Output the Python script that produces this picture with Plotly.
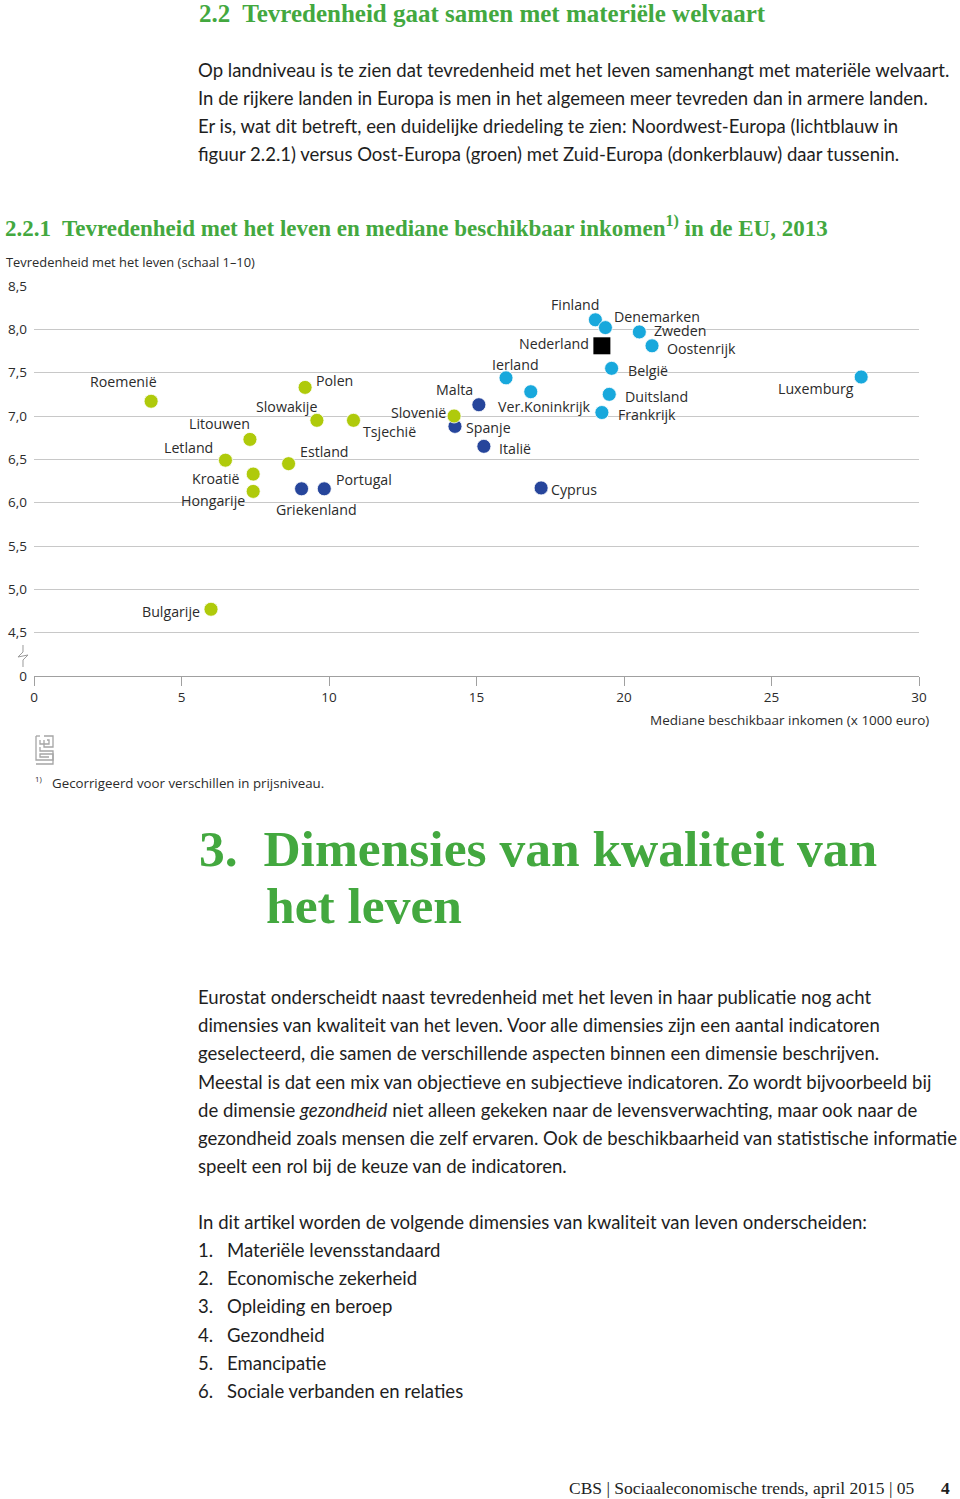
import plotly.graph_objects as go

# ---------------- data ----------------
countries = ["Roemenië", "Polen", "Slowakije", "Tsjechië", "Litouwen", "Letland", "Estland",
             "Kroatië", "Hongarije", "Bulgarije", "Slovenië",
             "Griekenland", "Portugal", "Spanje", "Malta", "Italië", "Cyprus",
             "Ierland", "Ver.Koninkrijk", "Finland", "Denemarken", "Zweden", "Oostenrijk",
             "België", "Duitsland", "Frankrijk", "Luxemburg", "Nederland"]
income = [3.97, 9.19, 9.59, 10.83, 7.32, 6.49, 8.63,
          7.43, 7.43, 6.00, 14.24,
          9.07, 9.84, 14.27, 15.08, 15.25, 17.19,
          16.00, 16.84, 19.03, 19.37, 20.52, 20.95,
          19.58, 19.50, 19.25, 28.04, 19.25]
satisfaction = [7.17, 7.33, 6.95, 6.95, 6.73, 6.49, 6.45,
                6.33, 6.13, 4.77, 7.00,
                6.16, 6.16, 6.88, 7.13, 6.65, 6.17,
                7.44, 7.28, 8.11, 8.02, 7.97, 7.81,
                7.55, 7.25, 7.04, 7.45, 7.81]
region = ["oost"] * 11 + ["zuid"] * 6 + ["noordwest"] * 10 + ["nederland"]

x_ticks = [0, 5, 10, 15, 20, 25, 30]
y_tickvals = [4.0, 4.5, 5.0, 5.5, 6.0, 6.5, 7.0, 7.5, 8.0, 8.5]
y_ticktext = ["0", "4,5", "5,0", "5,5", "6,0", "6,5", "7,0", "7,5", "8,0", "8,5"]

# label placement (xanchor, xshift px, yshift px) per country - style only
label_pos = {
    "Roemenië": ("right", 8, 20), "Polen": ("left", 9, 7), "Slowakije": ("right", 2, 14),
    "Tsjechië": ("left", 8, -11), "Litouwen": ("right", 2, 16), "Letland": ("right", -10, 13),
    "Estland": ("left", 9, 12), "Kroatië": ("right", -11, -4), "Hongarije": ("right", -6, -9),
    "Bulgarije": ("right", -9, -2), "Slovenië": ("right", -6, 4),
    "Griekenland": ("center", 15, -21), "Portugal": ("left", 10, 9), "Spanje": ("left", 9, -1),
    "Malta": ("right", -4, 15), "Italië": ("left", 13, -2), "Cyprus": ("left", 8, -2),
    "Ierland": ("center", 9, 13), "Ver.Koninkrijk": ("center", 14, -15),
    "Finland": ("right", 6, 15), "Denemarken": ("left", 7, 11), "Zweden": ("left", 13, 1),
    "Oostenrijk": ("left", 13, -3), "België": ("left", 14, -2), "Duitsland": ("left", 14, -2),
    "Frankrijk": ("left", 14, -2), "Luxemburg": ("right", -5, -11), "Nederland": ("right", -11, 2),
}

colors = {"oost": "#afca0b", "zuid": "#26459b", "noordwest": "#18a8dc", "nederland": "#000000"}

# ---------------- layout geometry (page pixel coordinates) ----------------
W, H = 960, 1499
L, R, T, B = 34, 919, 286, 676


def px(x):
    return (x - L) / (R - L)


def py(y):
    return (B - y) / (B - T)


fig = go.Figure()

for reg in ["zuid", "oost", "noordwest", "nederland"]:
    idx = [i for i, r in enumerate(region) if r == reg]
    fig.add_trace(go.Scatter(
        x=[income[i] for i in idx], y=[satisfaction[i] for i in idx],
        mode="markers", hoverinfo="text", text=[countries[i] for i in idx],
        marker=dict(color=colors[reg],
                    size=17 if reg == "nederland" else 14,
                    symbol="square" if reg == "nederland" else "circle",
                    line=dict(color="white", width=0.8 if reg != "nederland" else 0)),
        showlegend=False))

annotations = []
for c, xv, yv in zip(countries, income, satisfaction):
    xa, xs, ys = label_pos[c]
    annotations.append(dict(text=c, x=xv, y=yv, xref="x", yref="y", showarrow=False,
                            xanchor=xa, yanchor="middle", xshift=xs, yshift=ys,
                            font=dict(family="Open Sans", size=14.2, color="#2b2b2b")))

GREEN = "#43a83f"
BODY = "Lato"
SERIF = "Liberation Serif"
BS = 18.55


def txt(s, x, y, size, family=BODY, color="#1e1e1e", xanchor="left"):
    annotations.append(dict(text=s, x=px(x), y=py(y), xref="paper", yref="paper",
                            showarrow=False, xanchor=xanchor, yanchor="middle",
                            font=dict(family=family, size=size, color=color)))


# headings and text
txt("<b>2.2  Tevredenheid gaat samen met materiële welvaart</b>", 197, 13, 25, SERIF, GREEN)
para1 = ["Op landniveau is te zien dat tevredenheid met het leven samenhangt met materiële welvaart.",
         "In de rijkere landen in Europa is men in het algemeen meer tevreden dan in armere landen.",
         "Er is, wat dit betreft, een duidelijke driedeling te zien: Noordwest-Europa (lichtblauw in",
         "figuur 2.2.1) versus Oost-Europa (groen) met Zuid-Europa (donkerblauw) daar tussenin."]
for i, line in enumerate(para1):
    txt(line, 196, 70 + 28 * i, BS)

txt("<b>2.2.1  Tevredenheid met het leven en mediane beschikbaar inkomen<sup>1)</sup> in de EU, 2013</b>",
    3, 226, 23, SERIF, GREEN)
txt("Tevredenheid met het leven (schaal 1–10)", 4, 262, 12.9, "Open Sans", "#2b2b2b")
txt("Mediane beschikbaar inkomen (x 1000 euro)", 931, 720, 13.5, "Open Sans", "#2b2b2b", "right")
txt("<sup>1)</sup>", 33, 779, 11, "Open Sans", "#2b2b2b")
txt("Gecorrigeerd voor verschillen in prijsniveau.", 50, 783, 13.3, "Open Sans", "#2b2b2b")

txt("<b>3.  Dimensies van kwaliteit van</b>", 197, 848, 51.5, SERIF, GREEN)
txt("<b>het leven</b>", 264, 905, 51.5, SERIF, GREEN)

para2 = ["Eurostat onderscheidt naast tevredenheid met het leven in haar publicatie nog acht",
         "dimensies van kwaliteit van het leven. Voor alle dimensies zijn een aantal indicatoren",
         "geselecteerd, die samen de verschillende aspecten binnen een dimensie beschrijven.",
         "Meestal is dat een mix van objectieve en subjectieve indicatoren. Zo wordt bijvoorbeeld bij",
         "de dimensie <i>gezondheid</i> niet alleen gekeken naar de levensverwachting, maar ook naar de",
         "gezondheid zoals mensen die zelf ervaren. Ook de beschikbaarheid van statistische informatie",
         "speelt een rol bij de keuze van de indicatoren."]
for i, line in enumerate(para2):
    txt(line, 196, 997 + 28.2 * i, BS)

txt("In dit artikel worden de volgende dimensies van kwaliteit van leven onderscheiden:", 196, 1222, BS)
items = ["Materiële levensstandaard", "Economische zekerheid", "Opleiding en beroep",
         "Gezondheid", "Emancipatie", "Sociale verbanden en relaties"]
for i, it in enumerate(items):
    txt(f"{i + 1}.", 196, 1250 + 28.2 * i, BS)
    txt(it, 225, 1250 + 28.2 * i, BS)

txt("CBS | Sociaaleconomische trends, april 2015 | 05", 917, 1488, 17.5, SERIF, "#1e1e1e", "right")
txt("<b>4</b>", 939, 1488, 17.5, SERIF, "#1e1e1e")

# ---------------- shapes: axis break + logo ----------------
shapes = []
brk = [(23, 645), (23, 652), (18, 657), (28, 655), (23, 660), (23, 667)]
path = "M " + " L ".join(f"{px(a):.5f},{py(b):.5f}" for a, b in brk)
shapes.append(dict(type="path", path=path, xref="paper", yref="paper",
                   line=dict(color="#9a9a9a", width=1)))
# simplified CBS logo
logo = [
    [(36, 736), (36, 760), (53, 760), (53, 751), (40, 751), (40, 747)],
    [(40, 736), (36, 736)],
    [(44, 736), (53, 736), (53, 747), (44, 747), (44, 740)],
    [(40, 740), (40, 744), (49, 744), (49, 740), (47, 740)],
    [(36, 764), (53, 764), (53, 754), (40, 754), (40, 757), (49, 757)],
]
for poly in logo:
    p = "M " + " L ".join(f"{px(a):.5f},{py(b):.5f}" for a, b in poly)
    shapes.append(dict(type="path", path=p, xref="paper", yref="paper",
                       line=dict(color="#a5a5a5", width=1.3)))

fig.update_layout(
    width=W, height=H,
    margin=dict(l=L, r=W - R, t=T, b=H - B, pad=0),
    paper_bgcolor="white", plot_bgcolor="white",
    annotations=annotations, shapes=shapes,
    xaxis=dict(range=[0, 30], tickvals=x_ticks, ticktext=[str(v) for v in x_ticks],
               showgrid=False, zeroline=False, showline=True, linecolor="#a0a0a0", linewidth=1,
               ticks="outside", ticklen=9, tickcolor="#a0a0a0", tickwidth=1,
               tickfont=dict(family="Open Sans", size=13.5, color="#2b2b2b"), automargin=False),
    yaxis=dict(range=[4.0, 8.5], tickvals=y_tickvals, ticktext=y_ticktext,
               showgrid=True, gridcolor="#c8c8c8", gridwidth=1, zeroline=False, showline=False,
               ticks="", ticklabelstandoff=6,
               tickfont=dict(family="Open Sans", size=13.5, color="#2b2b2b"), automargin=False),
    hovermode="closest",
)

fig.write_html("out.html", config={"displayModeBar": False},
               post_script="document.body.style.margin='0';document.body.style.overflow='hidden';")
